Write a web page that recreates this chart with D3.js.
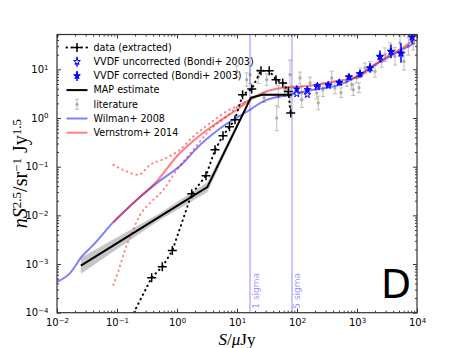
<!DOCTYPE html>
<html>
<head>
<meta charset="utf-8">
<script src="https://cdn.jsdelivr.net/npm/d3@7"></script>
<style>
  body { margin: 0; background: #fff; }
  text { font-family: "DejaVu Sans", sans-serif; }
</style>
</head>
<body>
<div id="chart"></div>
<script>
// --- Wilman+ 2008 model
const wilmanS = [0.01, 0.0165, 0.0258, 0.0403, 0.0868, 0.213, 0.459, 1.27, 2.13, 4.88, 16.5, 27.4, 76.4, 187, 521, 988, 1648, 3548, 9260];
const wilmanN = [4.3e-4, 6.5e-4, 1.42e-3, 2.47e-3, 7.24e-3, 0.0208, 0.046, 0.119, 0.24, 0.574, 1.48, 2.2, 3.01, 3.82, 4.84, 7.18, 10.7, 18.5, 34.9];

// --- Vernstrom+ 2014 (central + bounds)
const vernS = [0.0868, 0.213, 0.459, 0.99, 2.13, 4.59, 9.9, 17.6, 27.1, 58.4, 165, 398, 764, 1122, 1648, 3162, 5848, 9260];
const vernN = [7.24e-3, 0.0208, 0.05, 0.162, 0.387, 0.789, 1.48, 2.46, 3.31, 4.2, 4.62, 5.58, 6.44, 7.08, 10.8, 18.2, 28, 42.8];
const vernUpS = [0.0868, 0.145, 0.226, 0.355, 0.673, 1.12, 1.87, 3.55, 6.73, 11.2, 17.6];
const vernUpN = [0.109, 0.0796, 0.068, 0.109, 0.152, 0.223, 0.418, 0.789, 1.37, 1.88, 2.46];
const vernLoS = [0.0868, 0.105, 0.136, 0.176, 0.242, 0.355, 0.591, 0.99, 1.87, 3.55, 6.73, 11.2, 17.6];
const vernLoN = [3.72e-4, 6.98e-4, 1.95e-3, 4.3e-3, 0.0102, 0.0178, 0.0335, 0.0863, 0.223, 0.574, 1.08, 1.88, 2.46];

// --- MAP estimate with uncertainty band
const mapS  = [0.025, 0.5, 3.2, 17, 26, 82];
const mapN  = [9.3e-4, 0.0092, 0.038, 2.6, 3.0, 3.0];
const mapLo = [6.3e-4, 0.0078, 0.030, 2.4, 2.85, 2.85];
const mapHi = [1.35e-3, 0.0108, 0.048, 2.8, 3.15, 3.15];

// --- data (extracted)
const dataS = [0.19, 0.378, 0.569, 0.836, 1.76, 3.04, 4.3, 5.84, 7.5, 9.26, 12.4, 17.6, 25.1, 34.5, 44.7, 57.8, 71.6, 78.5];
const dataN = [1.0e-4, 5.25e-4, 8.8e-4, 1.89e-3, 0.0277, 0.065, 0.223, 0.433, 0.662, 0.922, 3.01, 3.95, 9.4, 9.4, 6.14, 5.25, 3.52, 1.27];

// --- literature counts (err in dex)
const litS = [9.9, 14.5, 16.5, 22.6, 31.3, 48.8, 45.9, 76.4, 76.4, 112, 120, 165, 213, 226, 379, 430, 673, 817, 867, 988, 1122, 1359, 1648, 1995, 2582, 2929, 3548, 4295, 5208, 6067, 7161, 8670, 28.2, 63.1, 271, 120, 541, 1080];
const litN = [8.97, 6.14, 7.78, 7.08, 6.14, 2.78, 1.0, 7.78, 2.74, 6.65, 2.38, 5.25, 3.27, 2.04, 6.65, 4.14, 5.66, 4.84, 3.82, 6.65, 8.43, 10.7, 11.5, 9.1, 14.6, 20, 25.4, 18.5, 34.9, 14.6, 29.7, 37.7, 2.62, 3.82, 3.82, 3.27, 3.31, 4.2];
const litErr = [0.12, 0.14, 0.18, 0.14, 0.12, 0.22, 0.26, 0.3, 0.18, 0.12, 0.16, 0.12, 0.12, 0.14, 0.14, 0.12, 0.1, 0.1, 0.12, 0.1, 0.1, 0.1, 0.1, 0.12, 0.12, 0.14, 0.14, 0.18, 0.14, 0.18, 0.18, 0.18, 0.1, 0.14, 0.14, 0.14, 0.1, 0.1];

// --- VVDF (Bondi+ 2003)
const vvdfS = [98.9, 148.6, 218, 332, 507, 736, 1122, 1648, 2415, 3690, 5408, 8260];
const vvdfN = [3.95, 3.82, 4.62, 4.84, 5.41, 6.98, 8.16, 10.7, 18.5, 23.4, 21.7, 46.4];
const vvdfUncN = [3.12, 3.01, 4.3, 4.6, 5.3, 6.9, 8.0, 10.5, 18.0, 23.0, 21.0, 45.0];
const vvdfErr = [0.06, 0.06, 0.06, 0.06, 0.06, 0.06, 0.08, 0.1, 0.12, 0.14, 0.2, 0.14];

// --- noise levels (uJy)
const sigmaS = [16.5, 82.5];
const sigmaLabels = ["1 sigma", "5 sigma"];

const xTicks = [1e-2, 1e-1, 1e0, 1e1, 1e2, 1e3, 1e4];
const yTicks = [1e-4, 1e-3, 1e-2, 1e-1, 1e0, 1e1];

const width = 463, height = 348;
const pL = 57, pR = 417, pT = 34.5, pB = 312.7;

const x = d3.scaleLog().domain([1e-2, 1e4]).range([pL, pR]);
const y = d3.scaleLog().domain([1e-4, 52]).range([pB, pT]);

const svg = d3.select('#chart').append('svg')
    .attr('width', width).attr('height', height);
svg.append('rect').attr('width', width).attr('height', height).attr('fill', '#fff');

svg.append('clipPath').attr('id', 'clip')
    .append('rect').attr('x', pL).attr('y', pT)
    .attr('width', pR - pL).attr('height', pB - pT);

const plot = svg.append('g').attr('clip-path', 'url(#clip)');

const zip = (xs, ys) => xs.map((s, i) => [s, ys[i]]);
const line = d3.line().x(d => x(d[0])).y(d => y(d[1]));
const smooth = d3.line().x(d => x(d[0])).y(d => y(d[1])).curve(d3.curveMonotoneX);

// literature error bars
const lit = litS.map((s, i) => ({ s, n: litN[i], e: litErr[i] }));
const litG = plot.append('g').attr('opacity', 0.55);
litG.selectAll('.lbar').data(lit).enter().append('path')
    .attr('d', d => {
        const xx = x(d.s), y0 = y(d.n * Math.pow(10, -d.e)), y1 = y(d.n * Math.pow(10, d.e));
        return `M${xx},${y0}V${y1}M${xx - 2},${y0}H${xx + 2}M${xx - 2},${y1}H${xx + 2}`;
    })
    .attr('stroke', '#888').attr('stroke-width', 1).attr('fill', 'none');
litG.selectAll('.ldot').data(lit).enter().append('circle')
    .attr('cx', d => x(d.s)).attr('cy', d => y(d.n)).attr('r', 1.6).attr('fill', '#666');

// sigma lines
plot.selectAll('.sig').data(sigmaS).enter().append('line')
    .attr('x1', d => x(d)).attr('x2', d => x(d)).attr('y1', pT).attr('y2', pB)
    .attr('stroke', '#0000ff').attr('stroke-opacity', 0.22).attr('stroke-width', 2);

// Wilman
plot.append('path').datum(zip(wilmanS, wilmanN)).attr('d', smooth)
    .attr('fill', 'none').attr('stroke', '#0000ff').attr('stroke-opacity', 0.5).attr('stroke-width', 2);

// Vernstrom
plot.append('path').datum(zip(vernS, vernN)).attr('d', smooth)
    .attr('fill', 'none').attr('stroke', '#ff0000').attr('stroke-opacity', 0.5).attr('stroke-width', 2);
[zip(vernUpS, vernUpN), zip(vernLoS, vernLoN)].forEach(pts => {
    plot.append('path').datum(pts).attr('d', smooth)
        .attr('fill', 'none').attr('stroke', '#ff0000').attr('stroke-opacity', 0.5)
        .attr('stroke-width', 2).attr('stroke-linecap', 'round').attr('stroke-dasharray', '0.5,4.5');
});

// MAP band + line
const band = d3.area().x(d => x(d.s)).y0(d => y(d.lo)).y1(d => y(d.hi));
plot.append('path').datum(mapS.map((s, i) => ({ s, lo: mapLo[i], hi: mapHi[i] })))
    .attr('d', band).attr('fill', '#808080').attr('fill-opacity', 0.45).attr('stroke', 'none');
plot.append('path').datum(zip(mapS, mapN)).attr('d', line)
    .attr('fill', 'none').attr('stroke', '#000').attr('stroke-width', 2);

// data (extracted)
const dpts = zip(dataS, dataN);
plot.append('path').datum(dpts).attr('d', line)
    .attr('fill', 'none').attr('stroke', '#000').attr('stroke-width', 2)
    .attr('stroke-linecap', 'round').attr('stroke-dasharray', '0.5,4.5');
plot.selectAll('.plus').data(dpts.slice(1)).enter().append('path')
    .attr('transform', d => `translate(${x(d[0])},${y(d[1])})`)
    .attr('d', 'M-4.5,0H4.5M0,-4.5V4.5').attr('stroke', '#000').attr('stroke-width', 1.5);

// VVDF
const vv = vvdfS.map((s, i) => ({ s, n: vvdfN[i], u: vvdfUncN[i], e: vvdfErr[i] }));
const star = d3.symbol().type(d3.symbolStar).size(14);
plot.selectAll('.vbar').data(vv).enter().append('line')
    .attr('x1', d => x(d.s)).attr('x2', d => x(d.s))
    .attr('y1', d => y(d.n * Math.pow(10, -d.e))).attr('y2', d => y(d.n * Math.pow(10, d.e)))
    .attr('stroke', '#0000ff').attr('stroke-width', 1.5);
plot.selectAll('.vunc').data(vv).enter().append('path')
    .attr('transform', d => `translate(${x(d.s)},${y(d.u)})`).attr('d', star)
    .attr('fill', '#fff').attr('stroke', '#0000ff').attr('stroke-width', 1);
plot.selectAll('.vcor').data(vv).enter().append('path')
    .attr('transform', d => `translate(${x(d.s)},${y(d.n)})`).attr('d', star)
    .attr('fill', '#0000ff').attr('stroke', '#0000ff').attr('stroke-width', 0.8);

// sigma labels
svg.selectAll('.siglab').data(sigmaS).enter().append('text')
    .attr('transform', d => `translate(${x(d) + 8.5},${pB - 4}) rotate(-90)`)
    .attr('font-size', 9).attr('fill', '#0000ff').attr('fill-opacity', 0.45)
    .text((d, i) => sigmaLabels[i]);

// big panel letter
svg.append('text').attr('x', 381).attr('y', 298).attr('font-size', 39).text('D');

// axes
const frame = svg.append('g');
const minorOf = ticks => ticks.slice(0, -1).flatMap(t => d3.range(2, 10).map(k => t * k));
const supLabels = (g) => {
    g.selectAll('.tick text').each(function (d) {
        const t = d3.select(this).text(null);
        t.append('tspan').text('10');
        t.append('tspan').attr('dy', '-0.5em').attr('font-size', 7).text(String(Math.round(Math.log10(d))).replace('-', '\u2212'));
    });
};
const styleAxis = g => { g.select('.domain').remove(); g.selectAll('.tick line').attr('stroke', '#333'); };

frame.append('g').attr('transform', `translate(0,${pB})`)
    .call(d3.axisBottom(x).tickValues(xTicks).tickSize(-4).tickPadding(6.5))
    .call(styleAxis).call(supLabels)
    .selectAll('text').attr('font-size', 10).attr('font-family', 'DejaVu Sans').attr('fill', '#000');
frame.append('g').attr('transform', `translate(0,${pB})`)
    .call(d3.axisBottom(x).tickValues(minorOf(xTicks)).tickSize(-2).tickFormat('')).call(styleAxis);
frame.append('g').attr('transform', `translate(0,${pT})`)
    .call(d3.axisTop(x).tickValues(xTicks).tickSize(-4).tickFormat('')).call(styleAxis);
frame.append('g').attr('transform', `translate(0,${pT})`)
    .call(d3.axisTop(x).tickValues(minorOf(xTicks)).tickSize(-2).tickFormat('')).call(styleAxis);

frame.append('g').attr('transform', `translate(${pL},0)`)
    .call(d3.axisLeft(y).tickValues(yTicks).tickSize(-4).tickPadding(8.5))
    .call(styleAxis).call(supLabels)
    .selectAll('text').attr('font-size', 10).attr('font-family', 'DejaVu Sans').attr('fill', '#000');
const yMinor = minorOf(yTicks.concat([1e2])).filter(v => v <= 52);
frame.append('g').attr('transform', `translate(${pL},0)`)
    .call(d3.axisLeft(y).tickValues(yMinor).tickSize(-2).tickFormat('')).call(styleAxis);
frame.append('g').attr('transform', `translate(${pR},0)`)
    .call(d3.axisRight(y).tickValues(yTicks).tickSize(-4).tickFormat('')).call(styleAxis);
frame.append('g').attr('transform', `translate(${pR},0)`)
    .call(d3.axisRight(y).tickValues(yMinor).tickSize(-2).tickFormat('')).call(styleAxis);

frame.append('rect').attr('x', pL).attr('y', pT)
    .attr('width', pR - pL).attr('height', pB - pT)
    .attr('fill', 'none').attr('stroke', '#333').attr('stroke-width', 1.2);

// axis labels
const xl = svg.append('text').attr('x', (pL + pR) / 2).attr('y', 345)
    .attr('text-anchor', 'middle').attr('font-size', 17).style('font-family', 'Liberation Serif, serif');
xl.append('tspan').attr('font-style', 'italic').text('S');
xl.append('tspan').text('/');
xl.append('tspan').attr('font-style', 'italic').text('\u03bc');
xl.append('tspan').text('Jy');

const yl = svg.append('text').attr('transform', `translate(27,${(pT + pB) / 2}) rotate(-90)`)
    .attr('text-anchor', 'middle').attr('font-size', 20).style('font-family', 'Liberation Serif, serif');
yl.append('tspan').attr('font-style', 'italic').text('nS');
yl.append('tspan').attr('dy', '-0.45em').attr('font-size', 13).text('2.5');
yl.append('tspan').attr('dy', '0.3em').text('/sr');
yl.append('tspan').attr('dy', '-0.45em').attr('font-size', 13).text('\u22121');
yl.append('tspan').attr('dy', '0.3em').text(' Jy');
yl.append('tspan').attr('dy', '-0.45em').attr('font-size', 13).text('1.5');

// legend
const legendItems = [
    { label: 'data (extracted)', type: 'data' },
    { label: 'VVDF uncorrected (Bondi+ 2003)', type: 'vunc' },
    { label: 'VVDF corrected (Bondi+ 2003)', type: 'vcor' },
    { label: 'MAP estimate', type: 'map' },
    { label: 'literature', type: 'lit' },
    { label: 'Wilman+ 2008', type: 'wil' },
    { label: 'Vernstrom+ 2014', type: 'ver' }
];
const leg = svg.append('g');
legendItems.forEach((it, i) => {
    const cy = 47.5 + i * 14.2, g = leg.append('g');
    const hx = 77;
    if (it.type === 'data') {
        g.append('line').attr('x1', 66.5).attr('x2', 87.5).attr('y1', cy).attr('y2', cy)
            .attr('stroke', '#000').attr('stroke-width', 2).attr('stroke-linecap', 'round').attr('stroke-dasharray', '0.5,4.5');
        g.append('path').attr('transform', `translate(${hx},${cy})`).attr('d', 'M-4.5,0H4.5M0,-4.5V4.5')
            .attr('stroke', '#000').attr('stroke-width', 1.5);
    } else if (it.type === 'vunc' || it.type === 'vcor') {
        g.append('line').attr('x1', hx).attr('x2', hx).attr('y1', cy - 5).attr('y2', cy + 5)
            .attr('stroke', '#0000ff').attr('stroke-width', 1.5);
        g.append('path').attr('transform', `translate(${hx},${cy})`).attr('d', star)
            .attr('fill', it.type === 'vunc' ? '#fff' : '#0000ff').attr('stroke', '#0000ff').attr('stroke-width', 1);
    } else if (it.type === 'lit') {
        const lg = g.append('g').attr('opacity', 0.55);
        lg.append('path').attr('d', `M${hx},${cy - 5}V${cy + 5}M${hx - 2},${cy - 5}H${hx + 2}M${hx - 2},${cy + 5}H${hx + 2}`)
            .attr('stroke', '#888').attr('fill', 'none');
        lg.append('circle').attr('cx', hx).attr('cy', cy).attr('r', 1.6).attr('fill', '#666');
    } else {
        const col = it.type === 'map' ? '#000' : it.type === 'wil' ? '#0000ff' : '#ff0000';
        g.append('line').attr('x1', 66.5).attr('x2', 87.5).attr('y1', cy).attr('y2', cy)
            .attr('stroke', col).attr('stroke-width', 2).attr('stroke-opacity', it.type === 'map' ? 1 : 0.5);
    }
    g.append('text').attr('x', 93.5).attr('y', cy).attr('dy', '0.35em')
        .attr('font-size', 9.6).text(it.label);
});
</script>
</body>
</html>
